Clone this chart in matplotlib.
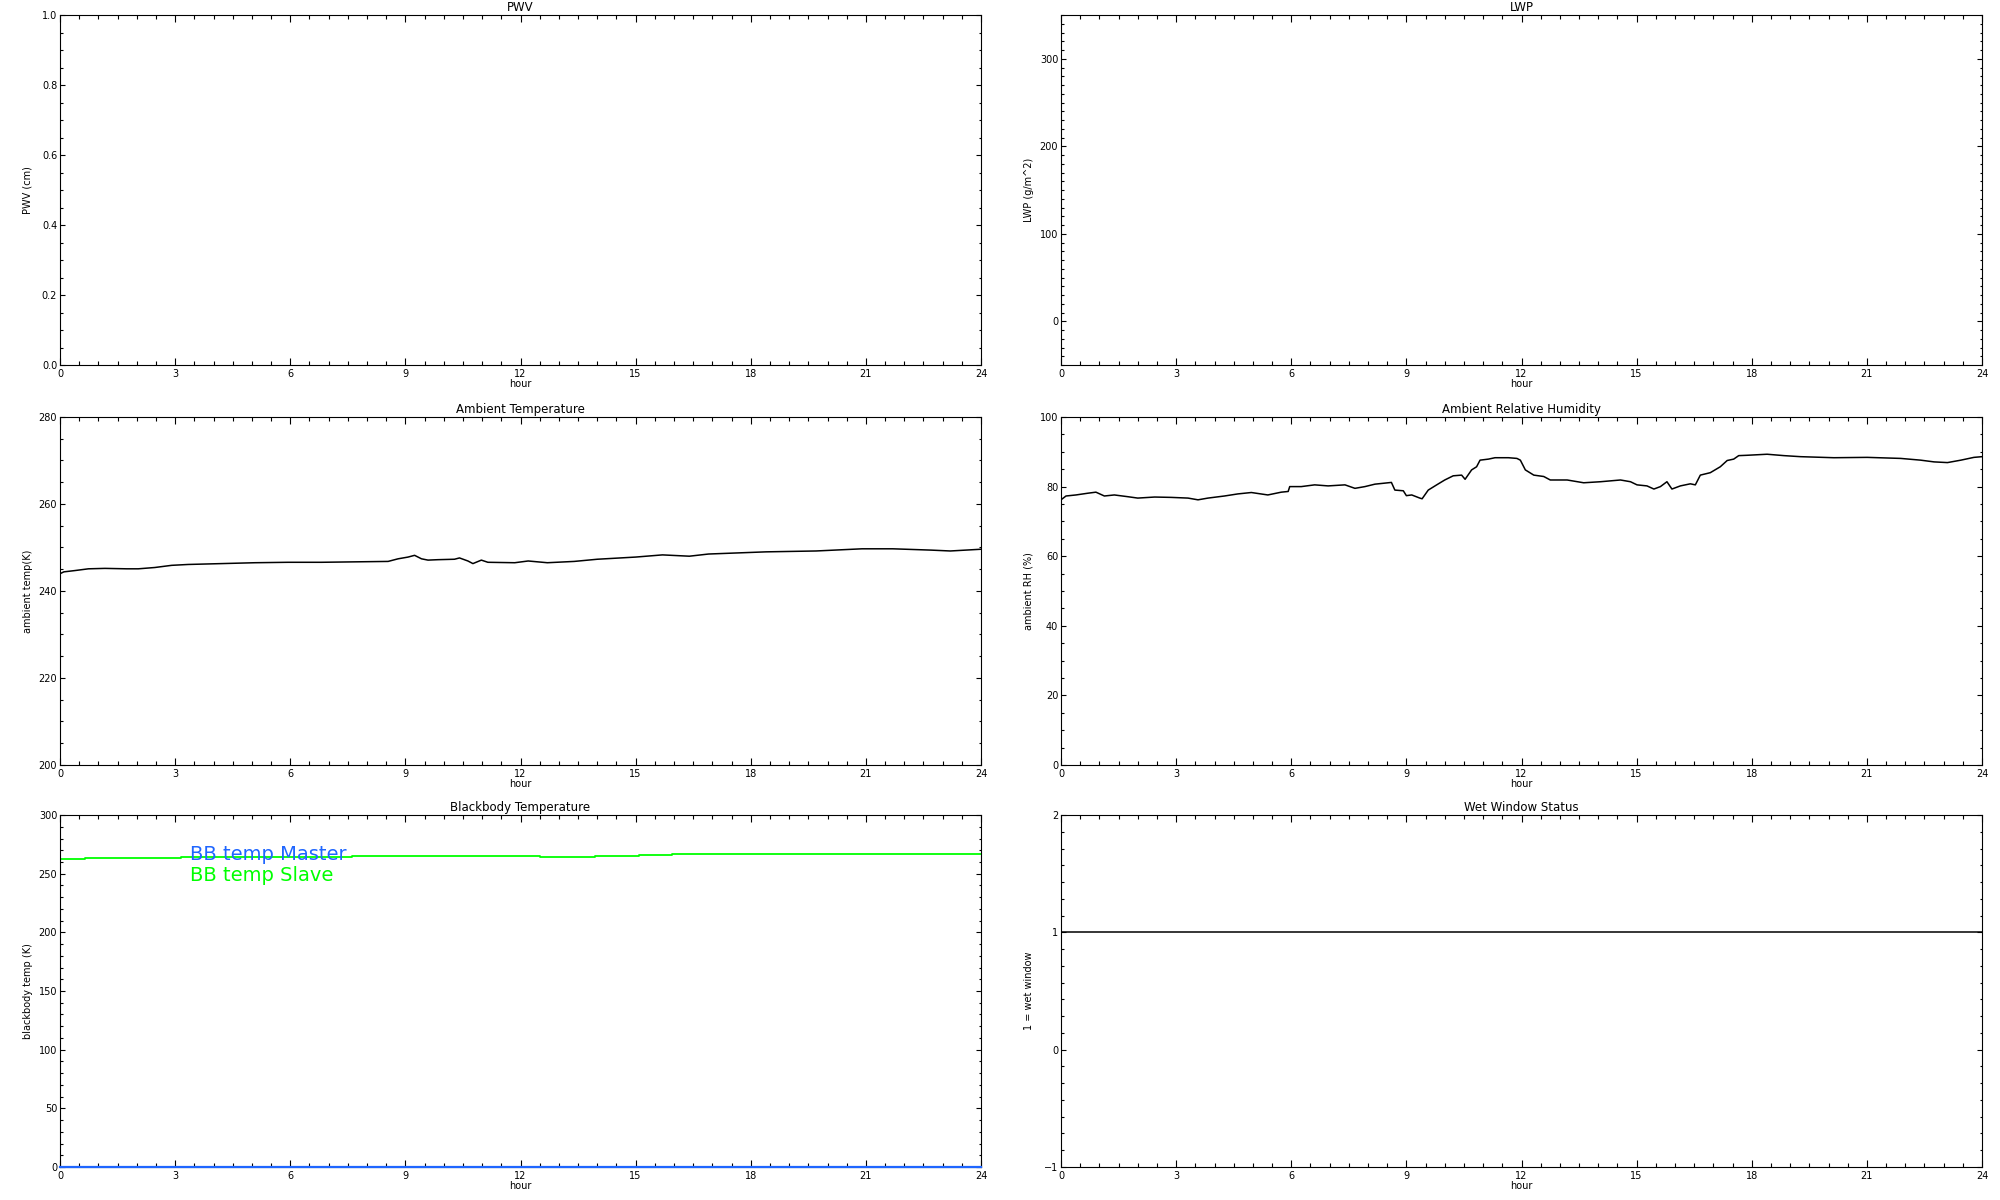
import numpy as np
import matplotlib
matplotlib.use('Agg')
import matplotlib.pyplot as plt
from matplotlib.ticker import MultipleLocator

# x axis (hour of day)
hour_ticks = [0, 3, 6, 9, 12, 15, 18, 21, 24]

# ambient temperature (K)
temp_hour = [0.03, 0.1, 0.39, 0.74, 1.17, 1.74, 2.04, 2.47, 2.91, 3.34, 4.21, 5.08,
             5.94, 6.81, 7.68, 8.55, 8.81, 9.07, 9.24, 9.42, 9.59, 9.85, 10.28, 10.41,
             10.63, 10.76, 10.98, 11.15, 11.85, 12.2, 12.7, 13.4, 14.0, 15.0, 15.7,
             16.4, 16.9, 18.4, 19.7, 20.9, 21.7, 22.7, 23.2, 24.0]
temp_val = [244.1, 244.4, 244.7, 245.1, 245.2, 245.1, 245.1, 245.4, 245.9, 246.1, 246.3, 246.5,
            246.6, 246.6, 246.7, 246.8, 247.4, 247.8, 248.2, 247.4, 247.1, 247.2, 247.3, 247.6,
            246.9, 246.3, 247.1, 246.6, 246.5, 246.9, 246.5, 246.8, 247.3, 247.8, 248.3,
            248.0, 248.5, 249.0, 249.2, 249.7, 249.7, 249.4, 249.2, 249.6]

# ambient relative humidity (%)
rh_hour = [0.0, 0.13, 0.39, 0.7, 0.91, 1.13, 1.39, 1.74, 2.0, 2.44, 2.87, 3.31, 3.57, 3.83,
           4.26, 4.61, 4.96, 5.39, 5.74, 5.92, 5.96, 6.26, 6.61, 6.96, 7.4, 7.66, 7.92, 8.18,
           8.44, 8.61, 8.7, 8.92, 9.0, 9.14, 9.35, 9.41, 9.57, 9.79, 10.0, 10.22, 10.44, 10.53,
           10.7, 10.83, 10.92, 11.14, 11.31, 11.66, 11.88, 11.97, 12.1, 12.32, 12.58, 12.75,
           13.19, 13.62, 14.06, 14.58, 14.84, 15.01, 15.27, 15.45, 15.62, 15.79, 15.92, 16.14,
           16.4, 16.53, 16.66, 16.92, 17.18, 17.36, 17.53, 17.66, 17.88, 18.4, 18.84, 19.27,
           20.14, 21.01, 21.88, 22.4, 22.75, 23.1, 23.45, 23.79, 24.0]
rh_val = [76.2, 77.3, 77.6, 78.1, 78.4, 77.3, 77.6, 77.1, 76.7, 77.0, 76.9, 76.7, 76.2, 76.7,
          77.3, 77.9, 78.3, 77.6, 78.4, 78.6, 80.0, 80.0, 80.5, 80.2, 80.5, 79.5, 80.0, 80.7,
          81.0, 81.2, 79.0, 78.8, 77.4, 77.6, 76.7, 76.5, 79.0, 80.5, 81.9, 83.1, 83.3, 82.1,
          84.8, 85.7, 87.6, 87.9, 88.3, 88.3, 88.1, 87.6, 84.8, 83.3, 82.9, 81.9,
          81.9, 81.1, 81.4, 81.9, 81.4, 80.5, 80.2, 79.3, 80.0, 81.4, 79.3, 80.2,
          80.8, 80.5, 83.3, 84.0, 85.7, 87.5, 87.9, 88.9, 89.0, 89.3, 88.9, 88.6,
          88.3, 88.4, 88.1, 87.6, 87.1, 86.9, 87.6, 88.4, 88.6]

# blackbody temperatures (K)
bb_master_hour = [0, 24]
bb_master_val = [0, 0]
bb_slave_hour = [0, 0.65, 3.15, 7.6, 12.5, 13.95, 15.1, 15.95, 24]
bb_slave_val = [262.9, 263.7, 264.6, 265.4, 264.6, 265.3, 266.0, 266.8, 266.8]

# wet window flag
wet_hour = [0, 24]
wet_val = [1, 1]

FS = 7


def style_axis(ax, title, ylabel, ylim, ymajor, yminor):
    ax.set_xlim(0, 24)
    ax.set_ylim(*ylim)
    ax.xaxis.set_major_locator(MultipleLocator(3))
    ax.xaxis.set_minor_locator(MultipleLocator(0.5))
    ax.yaxis.set_major_locator(MultipleLocator(ymajor))
    ax.yaxis.set_minor_locator(MultipleLocator(yminor))
    ax.tick_params(axis='x', which='major', direction='in', length=5, width=0.8,
                   top=True, bottom=True, labelsize=FS, pad=3)
    ax.tick_params(axis='x', which='minor', direction='in', length=2.6, width=0.8,
                   top=True, bottom=True)
    ax.tick_params(axis='y', which='major', direction='in', length=3.5, width=0.8,
                   left=True, right=True, labelsize=FS, pad=2)
    ax.tick_params(axis='y', which='minor', direction='in', length=1.8, width=0.8,
                   left=True, right=True)
    for s in ax.spines.values():
        s.set_linewidth(0.8)
    ax.set_xticks(hour_ticks)
    ax.set_title(title, fontsize=8.5, pad=3)
    ax.set_xlabel('hour', fontsize=FS, labelpad=0)
    ax.set_ylabel(ylabel, fontsize=FS)
    ax.yaxis.set_label_coords(-0.0295, 0.5)


def main():
    fig = plt.figure(figsize=(20, 12), dpi=100)
    lx, rx, w = 0.03, 0.5305, 0.4605
    rows = [(0.6958, 0.2917), (0.3625, 0.29), (0.0275, 0.2933)]

    ax_pwv = fig.add_axes([lx, rows[0][0], w, rows[0][1]])
    style_axis(ax_pwv, 'PWV', 'PWV (cm)', (0, 1), 0.2, 0.05)
    ax_pwv.yaxis.set_major_formatter(matplotlib.ticker.FormatStrFormatter('%.1f'))

    ax_lwp = fig.add_axes([rx, rows[0][0], w, rows[0][1]])
    style_axis(ax_lwp, 'LWP', 'LWP (g/m^2)', (-50, 350), 100, 10)

    ax_t = fig.add_axes([lx, rows[1][0], w, rows[1][1]])
    style_axis(ax_t, 'Ambient Temperature', 'ambient temp(K)', (200, 280), 20, 5)
    ax_t.plot(temp_hour, temp_val, color='black', lw=1.1)

    ax_rh = fig.add_axes([rx, rows[1][0], w, rows[1][1]])
    style_axis(ax_rh, 'Ambient Relative Humidity', 'ambient RH (%)', (0, 100), 20, 5)
    ax_rh.plot(rh_hour, rh_val, color='black', lw=1.1)

    ax_bb = fig.add_axes([lx, rows[2][0], w, rows[2][1]])
    style_axis(ax_bb, 'Blackbody Temperature', 'blackbody temp (K)', (0, 300), 50, 10)
    ax_bb.plot(bb_master_hour, bb_master_val, color='#1f66ff', lw=1.6, clip_on=False, zorder=3)
    ax_bb.plot(bb_slave_hour, bb_slave_val, color='#00ff00', lw=1.3, drawstyle='steps-post')
    ax_bb.text(0.141, 0.888, 'BB temp Master', color='#1f66ff', fontsize=14,
               transform=ax_bb.transAxes, va='center', ha='left')
    ax_bb.text(0.141, 0.829, 'BB temp Slave', color='#00ff00', fontsize=14,
               transform=ax_bb.transAxes, va='center', ha='left')

    ax_wet = fig.add_axes([rx, rows[2][0], w, rows[2][1]])
    style_axis(ax_wet, 'Wet Window Status', '1 = wet window', (-1, 2), 1, 1 / 7)
    ax_wet.plot(wet_hour, wet_val, color='black', lw=1.1)

    fig.savefig('out.png', dpi=100)


if __name__ == '__main__':
    main()
